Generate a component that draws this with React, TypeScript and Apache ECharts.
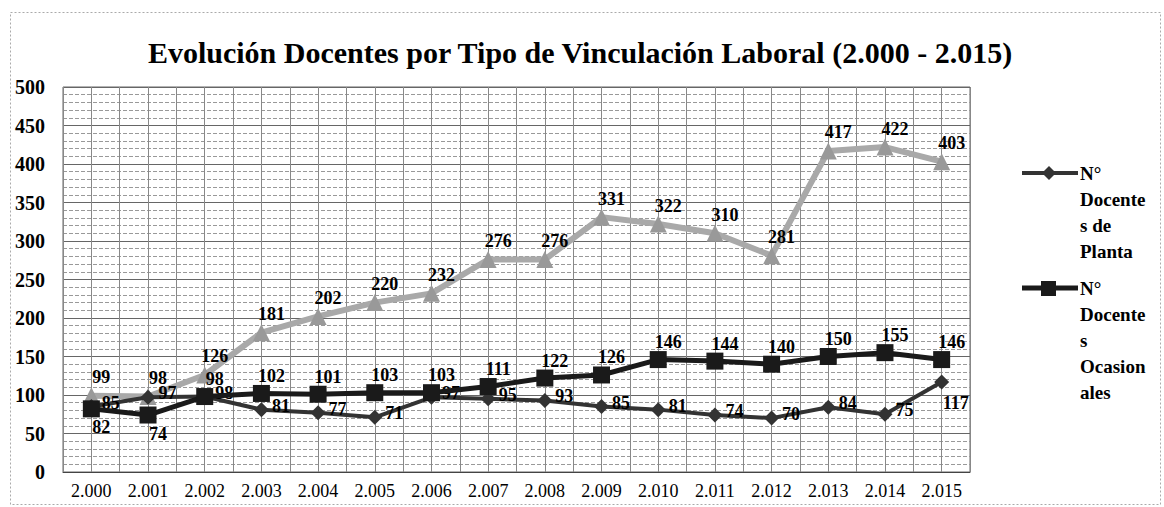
import React, { useEffect, useRef } from "react";
import * as echarts from "echarts";

const categories = ["2.000","2.001","2.002","2.003","2.004","2.005","2.006","2.007","2.008","2.009","2.010","2.011","2.012","2.013","2.014","2.015"];
const planta = [85, 97, 98, 81, 77, 71, 97, 95, 93, 85, 81, 74, 70, 84, 75, 117];
const ocasionales = [82, 74, 98, 102, 101, 103, 103, 111, 122, 126, 146, 144, 140, 150, 155, 146];
const catedraticos = [99, 98, 126, 181, 202, 220, 232, 276, 276, 331, 322, 310, 281, 417, 422, 403];
const yTicks = { min: 0, max: 500, interval: 50 };
const title = "Evolución Docentes por Tipo de Vinculación Laboral (2.000 - 2.015)";
const legendPlanta = ["N°", "Docente", "s de", "Planta"];
const legendOcasionales = ["N°", "Docente", "s", "Ocasion", "ales"];

const SERIF = "'Liberation Serif', 'DejaVu Serif', serif";

export default function App() {
  const ref = useRef<HTMLDivElement>(null);
  useEffect(() => {
    if (!ref.current) return;
    const chart = echarts.init(ref.current, null, { renderer: "svg" });
    const labelStyle = { color: "#000", fontFamily: SERIF, fontWeight: "bold", fontSize: 18 };
    const legendText = (lines: string[], x: number, y: number) => ({
      type: "text", left: x, top: y,
      style: { text: lines.join("\n"), fill: "#000", font: `bold 19px ${SERIF}`, lineHeight: 26 },
    });
    const option: any = {
      animation: false,
      backgroundColor: "#fff",
      title: {
        text: title, left: 575, top: 32, textAlign: "center",
        textStyle: { fontFamily: SERIF, fontWeight: "bold", fontSize: 30, color: "#000" },
      },
      grid: { left: 63, right: 194, top: 87, bottom: 35, show: true, borderColor: "#666", borderWidth: 1 },
      xAxis: [
        {
          type: "category", data: categories, boundaryGap: true,
          axisLine: { show: true, lineStyle: { color: "#444" } }, axisTick: { show: false },
          axisLabel: { color: "#000", fontFamily: SERIF, fontSize: 18, margin: 10 },
          splitLine: { show: true, lineStyle: { color: "#555", width: 1 } },
        },
        {
          type: "value", min: 0, max: 32, interval: 1, position: "bottom",
          axisLine: { show: false }, axisTick: { show: false }, axisLabel: { show: false },
          splitLine: { show: true, lineStyle: { color: "#888", width: 1 } },
        },
      ],
      yAxis: {
        type: "value", ...yTicks,
        axisLine: { show: false }, axisTick: { show: false },
        axisLabel: { color: "#000", fontFamily: SERIF, fontWeight: "bold", fontSize: 20, margin: 18 },
        splitLine: { show: true, lineStyle: { color: "#666", width: 1 } },
        minorTick: { show: false, splitNumber: 5 },
        minorSplitLine: { show: true, lineStyle: { color: "#999", type: "dashed", width: 1 } },
      },
      series: [
        {
          name: "N° Docentes Catedráticos", type: "line", data: catedraticos, xAxisIndex: 0,
          symbol: "triangle", symbolSize: 17, z: 3,
          lineStyle: { color: "#a9a9a9", width: 6 }, itemStyle: { color: "#999" },
          label: { show: true, position: "top", offset: [10, 4], ...labelStyle },
        },
        {
          name: "N° Docentes de Planta", type: "line", xAxisIndex: 0,
          data: planta.map((v, i) => (i === planta.length - 1 ? { value: v, label: { position: "bottom", offset: [14, 0] } } : v)),
          symbol: "diamond", symbolSize: 15, z: 4,
          lineStyle: { color: "#333", width: 4 }, itemStyle: { color: "#333" },
          label: { show: true, position: "right", offset: [-2, -4], ...labelStyle },
        },
        {
          name: "N° Docentes Ocasionales", type: "line", xAxisIndex: 0,
          data: ocasionales.map((v, i) => (i < 2 ? { value: v, label: { position: "bottom", offset: [10, -4] } } : v)),
          symbol: "rect", symbolSize: 17, z: 5,
          lineStyle: { color: "#1a1a1a", width: 5 }, itemStyle: { color: "#1a1a1a" },
          label: { show: true, position: "top", offset: [10, 5], ...labelStyle },
        },
      ],
      graphic: [
        { type: "rect", left: 8, top: 10, shape: { width: 1150, height: 492 }, style: { fill: "none", stroke: "#aaa", lineWidth: 1, lineDash: [2, 2] } },
        { type: "line", shape: { x1: 1022, y1: 173, x2: 1078, y2: 173 }, style: { stroke: "#333", lineWidth: 4 } },
        { type: "polygon", shape: { points: [[1049, 166], [1056, 173], [1049, 180], [1042, 173]] }, style: { fill: "#333" } },
        legendText(legendPlanta, 1080, 160),
        { type: "line", shape: { x1: 1022, y1: 288, x2: 1078, y2: 288 }, style: { stroke: "#1a1a1a", lineWidth: 5 } },
        { type: "rect", shape: { x: 1041, y: 281, width: 15, height: 15 }, style: { fill: "#1a1a1a" } },
        legendText(legendOcasionales, 1080, 275),
      ],
    };
    chart.setOption(option);
    return () => chart.dispose();
  }, []);
  return <div ref={ref} style={{ position: "fixed", left: 0, top: 0, width: 1164, height: 507 }} />;
}
